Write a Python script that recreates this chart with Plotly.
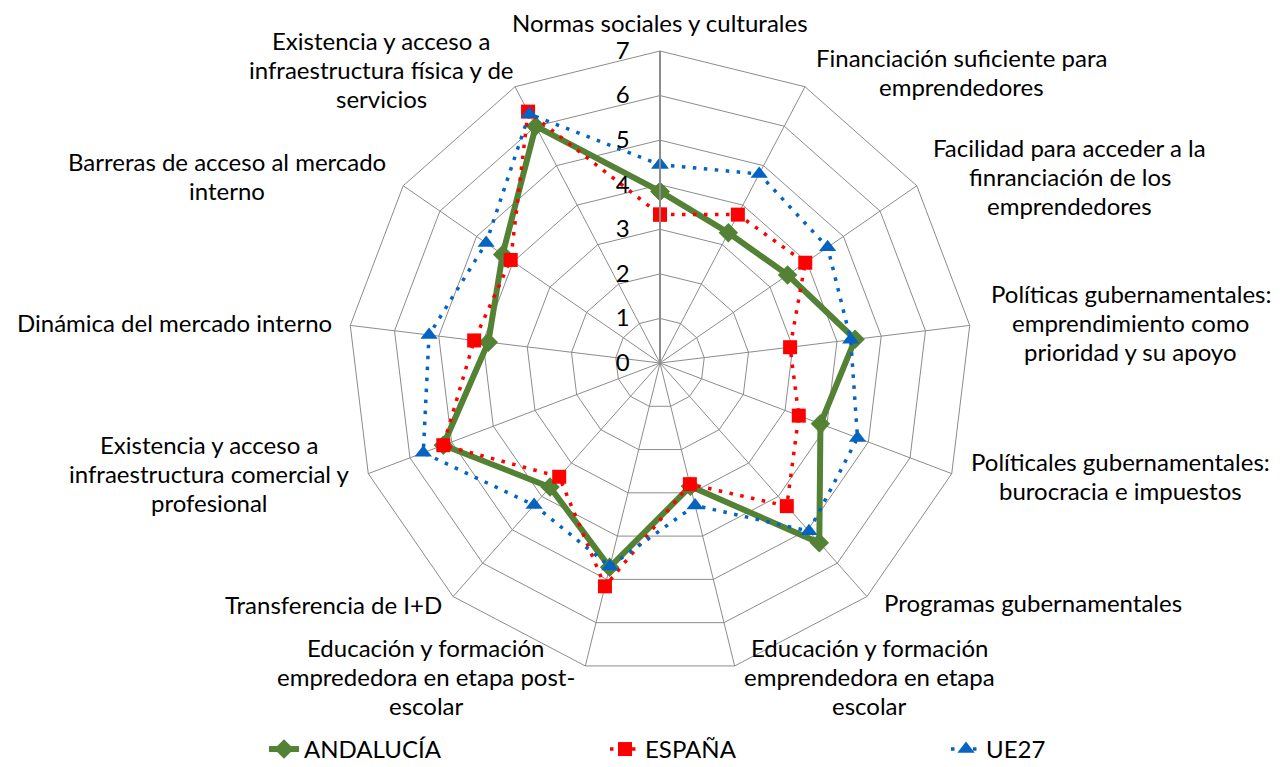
import math
import plotly.graph_objects as go

categorias = [
    "Normas sociales y culturales",
    "Financiación suficiente para<br>emprendedores",
    "Facilidad para acceder a la<br>finranciación de los<br>emprendedores",
    "Políticas gubernamentales:<br>emprendimiento como<br>prioridad y su apoyo",
    "Políticales gubernamentales:<br>burocracia e impuestos",
    "Programas gubernamentales",
    "Educación y formación<br>emprendedora en etapa<br>escolar",
    "Educación y formación<br>emprededora en etapa post-<br>escolar",
    "Transferencia de I+D",
    "Existencia y acceso a<br>infraestructura comercial y<br>profesional",
    "Dinámica del mercado interno",
    "Barreras de acceso al mercado<br>interno",
    "Existencia y acceso a<br>infraestructura física y de<br>servicios",
]

andalucia = [3.85, 3.30, 3.48, 4.41, 3.85, 5.39, 2.85, 4.72, 3.72, 5.20, 3.88, 4.29, 6.00]
espana = [3.33, 3.76, 3.96, 2.94, 3.33, 4.29, 2.80, 5.16, 3.41, 5.20, 4.20, 4.07, 6.37]
ue27 = [4.45, 4.79, 4.57, 4.31, 4.74, 5.04, 3.29, 4.70, 4.26, 5.68, 5.22, 4.74, 6.31]

FONT = "Lato"
TAM = 24
GRIS = "#8c8c8c"

# offset (px) of each label block centre from the outer polygon vertex
desplaz = [(0, -29), (157, -15), (153, -9), (161, -3), (169, 2), (166, 6), (135, 11),
           (-159, 11), (-120, 8), (-159, 0), (-176, -3), (-176, -10), (-134, -17)]
interlinea = 29

fig = go.Figure()


def cerrar(vals):
    return vals + vals[:1]


fig.add_trace(go.Scatterpolar(
    r=cerrar(andalucia), theta=cerrar(categorias), name="ANDALUCÍA",
    mode="lines+markers",
    line=dict(color="#548235", width=6),
    marker=dict(symbol="diamond", size=15, color="#548235"),
))
fig.add_trace(go.Scatterpolar(
    r=cerrar(espana), theta=cerrar(categorias), name="ESPAÑA",
    mode="lines+markers",
    line=dict(color="#FF0000", width=3.5, dash="3.5px,7.5px"),
    marker=dict(symbol="square", size=14, color="#FF0000"),
))
fig.add_trace(go.Scatterpolar(
    r=cerrar(ue27), theta=cerrar(categorias), name="UE27",
    mode="lines+markers",
    line=dict(color="#0563C1", width=3.5, dash="3.5px,7.5px"),
    marker=dict(symbol="triangle-up", size=15, color="#0563C1"),
))

# the page body adds an 8px margin, so the figure origin sits at (8, 8)
cx, cy, rad = 652, 355, 312
W, H = 1280, 767
n = len(categorias)

# category labels, one annotation per line, centred like the original
anots = []
for i, (txt, (dx, dy)) in enumerate(zip(categorias, desplaz)):
    a = 2 * math.pi * i / n
    bx = cx + rad * math.sin(a) + dx
    by = cy - rad * math.cos(a) + dy
    lineas = txt.split("<br>")
    for j, lin in enumerate(lineas):
        ly = by + (j - (len(lineas) - 1) / 2) * interlinea
        anots.append(dict(
            text=lin, x=bx / W, y=1 - ly / H, xref="paper", yref="paper",
            xanchor="center", yanchor="middle", showarrow=False,
            font=dict(family=FONT, size=TAM, color="black"),
        ))

fig.update_layout(
    width=W, height=H,
    margin=dict(l=0, r=0, t=0, b=0),
    paper_bgcolor="white",
    font=dict(family=FONT, size=TAM, color="black"),
    annotations=anots,
    polar=dict(
        domain=dict(x=[(cx - rad) / W, (cx + rad) / W],
                    y=[(H - cy - rad) / H, (H - cy + rad) / H]),
        bgcolor="white",
        gridshape="linear",
        radialaxis=dict(
            range=[0, 7], dtick=1, angle=90, side="counterclockwise",
            tickangle=90, showline=True, linecolor=GRIS, linewidth=2,
            gridcolor=GRIS, gridwidth=1,
            ticks="outside", ticklen=21, tickcolor="rgba(0,0,0,0)",
            tickfont=dict(size=TAM, family=FONT),
        ),
        angularaxis=dict(
            direction="clockwise", rotation=90, showticklabels=False,
            showline=True, linecolor=GRIS, linewidth=1,
            gridcolor=GRIS, gridwidth=1, ticks="",
        ),
    ),
    legend=dict(
        orientation="h", x=0.2, y=0.004, yanchor="bottom", xanchor="left",
        entrywidth=296, entrywidthmode="pixels",
        font=dict(size=TAM, family=FONT),
    ),
)

fig.write_html("out.html")
